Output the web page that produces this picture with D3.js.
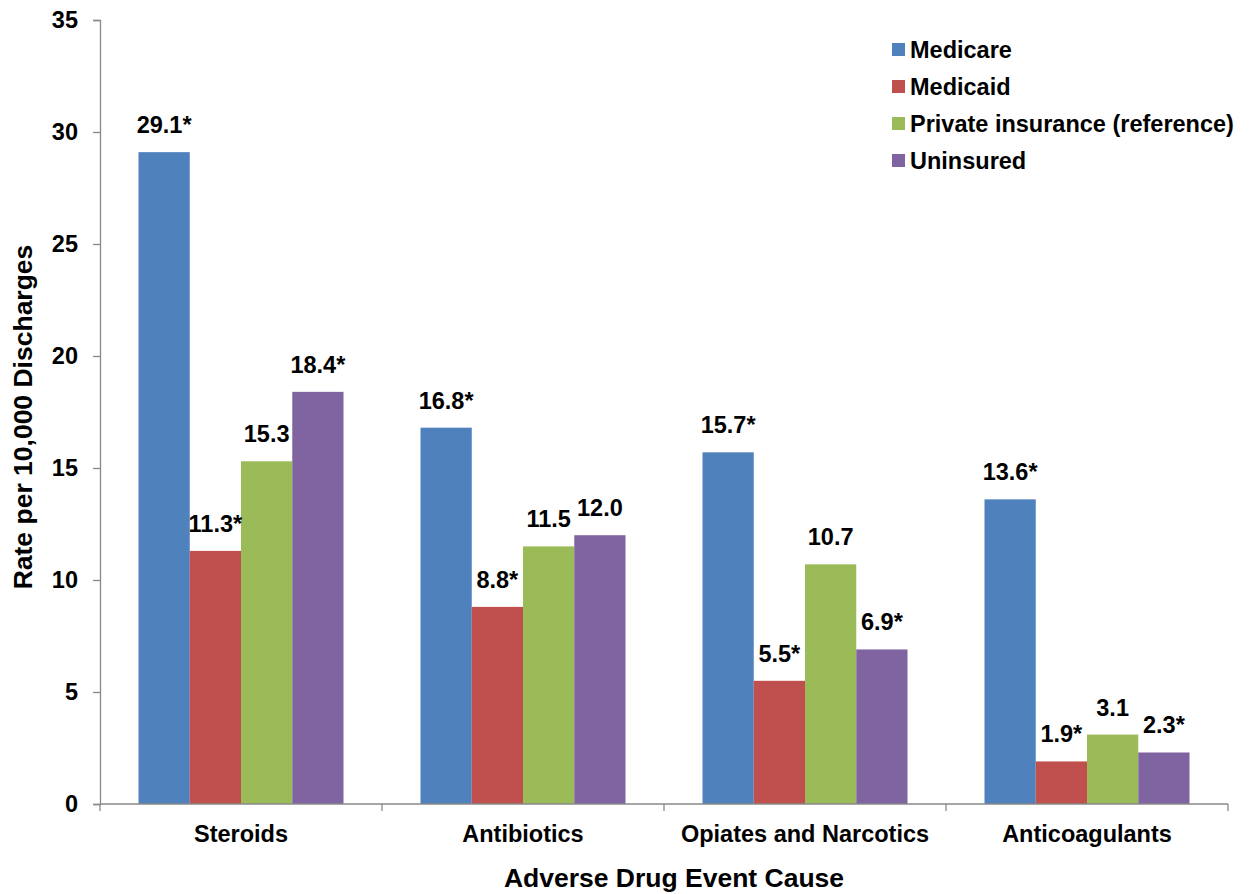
<!DOCTYPE html>
<html>
<head>
<meta charset="utf-8">
<script src="https://cdn.jsdelivr.net/npm/d3@7"></script>
<style>
  html, body { margin: 0; padding: 0; background: #fff; }
  svg { display: block; font-family: "Liberation Sans", Arial, sans-serif; }
</style>
</head>
<body>
<svg id="chart" width="1250" height="894"></svg>
<script>
// Adverse drug event rates by expected payer
const categories = ["Steroids", "Antibiotics", "Opiates and Narcotics", "Anticoagulants"];
const seriesNames = ["Medicare", "Medicaid", "Private insurance (reference)", "Uninsured"];
const medicare = [29.1, 16.8, 15.7, 13.6];
const medicaid = [11.3, 8.8, 5.5, 1.9];
const privateIns = [15.3, 11.5, 10.7, 3.1];
const uninsured = [18.4, 12.0, 6.9, 2.3];
// asterisk marks a significant difference from the reference group
const medicareSig = [true, true, true, true];
const medicaidSig = [true, true, true, true];
const privateSig = [false, false, false, false];
const uninsuredSig = [true, false, true, true];
const yTicks = [0, 5, 10, 15, 20, 25, 30, 35];
const colors = ["#4F81BD", "#C0504D", "#9BBB59", "#8064A2"];

const seriesValues = [medicare, medicaid, privateIns, uninsured];
const seriesSig = [medicareSig, medicaidSig, privateSig, uninsuredSig];

const svg = d3.select("#chart");
const margin = { left: 100, right: 22, top: 20, bottom: 90 };
const width = 1250, height = 894;
const plotW = width - margin.left - margin.right;
const plotH = height - margin.top - margin.bottom;
const labelSize = 23.5;

const g = svg.append("g").attr("transform", `translate(${margin.left},${margin.top})`);

const x0 = d3.scaleBand().domain(categories).range([0, plotW]).paddingInner(0.273).paddingOuter(0.1365);
const x1 = d3.scaleBand().domain(seriesNames).range([0, x0.bandwidth()]);
const y = d3.scaleLinear().domain([0, 35]).range([plotH, 0]);

const axisColor = "#888888";

// y axis
const yAxis = g.append("g")
  .call(d3.axisLeft(y).tickValues(yTicks).tickSize(7).tickPadding(15).tickFormat(d3.format("d")));
yAxis.select(".domain").attr("stroke", axisColor).attr("stroke-width", 1.3);
yAxis.selectAll(".tick line").attr("stroke", axisColor).attr("stroke-width", 1.3);
yAxis.selectAll(".tick text")
  .attr("fill", "#000").attr("font-size", labelSize).attr("font-weight", "bold")
  .attr("font-family", "Liberation Sans, Arial, sans-serif");

// bars
const groups = g.selectAll(".cat")
  .data(categories)
  .join("g")
  .attr("class", "cat")
  .attr("transform", d => `translate(${x0(d)},0)`);

const barData = ci => seriesNames.map((s, si) => ({
  series: s, si, value: seriesValues[si][ci], sig: seriesSig[si][ci]
}));

groups.each(function (c, ci) {
  const gg = d3.select(this);
  const items = barData(ci);
  gg.selectAll("rect")
    .data(items)
    .join("rect")
    .attr("x", d => x1(d.series))
    .attr("y", d => y(d.value))
    .attr("width", x1.bandwidth())
    .attr("height", d => y(0) - y(d.value))
    .attr("fill", d => colors[d.si]);
  gg.selectAll("text.val")
    .data(items)
    .join("text")
    .attr("class", "val")
    .attr("x", d => x1(d.series) + x1.bandwidth() / 2)
    .attr("y", d => y(d.value) - 19)
    .attr("text-anchor", "middle")
    .attr("font-size", labelSize)
    .attr("font-weight", "bold")
    .attr("fill", "#000")
    .text(d => d3.format(".1f")(d.value) + (d.sig ? "*" : ""));
});

// x axis with ticks at category boundaries
const xAxisG = g.append("g").attr("transform", `translate(0,${plotH})`);
xAxisG.append("line")
  .attr("x1", 0).attr("x2", plotW).attr("y1", 0).attr("y2", 0)
  .attr("stroke", axisColor).attr("stroke-width", 1.3);
const step = x0.step();
const boundaries = d3.range(categories.length + 1).map(i => Math.min(plotW, x0(categories[0]) - x0.paddingInner() * step / 2 + i * step));
xAxisG.selectAll("line.tk")
  .data(boundaries)
  .join("line")
  .attr("class", "tk")
  .attr("x1", d => d).attr("x2", d => d)
  .attr("y1", 0).attr("y2", 7)
  .attr("stroke", axisColor).attr("stroke-width", 1.3);
xAxisG.selectAll("text.cat")
  .data(categories)
  .join("text")
  .attr("class", "cat")
  .attr("x", d => x0(d) + x0.bandwidth() / 2)
  .attr("y", 38)
  .attr("text-anchor", "middle")
  .attr("font-size", labelSize)
  .attr("font-weight", "bold")
  .attr("fill", "#000")
  .text(d => d);

// axis titles
svg.append("text")
  .attr("x", 674)
  .attr("y", 887)
  .attr("text-anchor", "middle")
  .attr("font-size", 26.5)
  .attr("font-weight", "bold")
  .text("Adverse Drug Event Cause");

svg.append("text")
  .attr("transform", "translate(32,417) rotate(-90)")
  .attr("text-anchor", "middle")
  .attr("font-size", 26.5)
  .attr("font-weight", "bold")
  .text("Rate per 10,000 Discharges");

// legend
const legend = svg.append("g").attr("transform", "translate(892,58)");
const li = legend.selectAll("g")
  .data(seriesNames)
  .join("g")
  .attr("transform", (d, i) => `translate(0,${i * 37})`);
li.append("rect")
  .attr("x", 0).attr("y", -15).attr("width", 13).attr("height", 13)
  .attr("fill", (d, i) => colors[i]);
li.append("text")
  .attr("x", 18).attr("y", 0)
  .attr("font-size", labelSize)
  .attr("font-weight", "bold")
  .attr("fill", "#000")
  .text(d => d);
</script>
</body>
</html>
